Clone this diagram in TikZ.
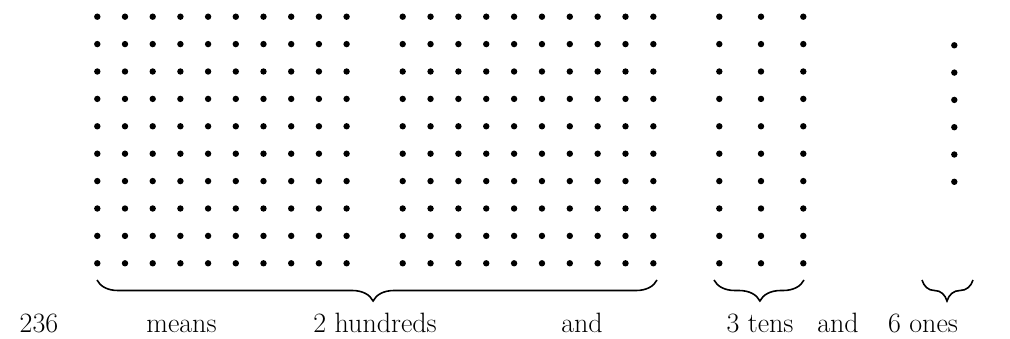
\documentclass[tikz,border=0pt]{standalone}
\usetikzlibrary{decorations.pathreplacing}
\begin{document}
\begin{tikzpicture}[x=1pt,y=-1pt,
  dotmark/.style={fill=black},
  bracedeco/.style={draw=black,line width=1.6pt,decorate,decoration={brace,mirror,amplitude=21pt}},
  lbl/.style={anchor=base,inner sep=0pt,font=\fontsize{28}{32}\selectfont}]
\useasboundingbox (0,0) rectangle (1010,339);
% hundreds (two 10x10 squares) and tens
\foreach \i in {0,...,9}{
  \foreach \j in {0,...,9}{
    \fill[dotmark] ({97.3+27.7*\i},{16.7+27.4*\j}) circle (3.2);
    \fill[dotmark] ({402.7+27.85*\i},{16.7+27.4*\j}) circle (3.2);
  }
  \fill[dotmark] (719.3,{16.7+27.4*\i}) circle (3.2);
  \fill[dotmark] (761.0,{16.7+27.4*\i}) circle (3.2);
  \fill[dotmark] (803.3,{16.7+27.4*\i}) circle (3.2);
}
% ones
\foreach \j in {0,...,5}{
  \fill[dotmark] (954.3,{45.3+27.3*\j}) circle (3.2);
}
% brace end points
\coordinate (hA) at (97,280);
\coordinate (hB) at (657,280);
\coordinate (tA) at (714,280);
\coordinate (tB) at (804,280);
\coordinate (oA) at (922,280);
\coordinate (oB) at (973,280);
\draw[bracedeco,decoration={aspect=0.493}] (hA) -- (hB);
\draw[bracedeco,decoration={aspect=0.51}] (tA) -- (tB);
\draw[bracedeco,decoration={aspect=0.49}] (oA) -- (oB);
% labels
\node[lbl] (n236) at (39,332) {236};
\node[lbl] (means) at (181.5,332) {means};
\node[lbl] (hund) at (375,332) {2 hundreds};
\node[lbl] (and1) at (582,332) {and};
\node[lbl] (tens) at (760,332) {3 tens};
\node[lbl] (and2) at (838,332) {and};
\node[lbl] (ones) at (923,332) {6 ones};
\end{tikzpicture}
\end{document}
